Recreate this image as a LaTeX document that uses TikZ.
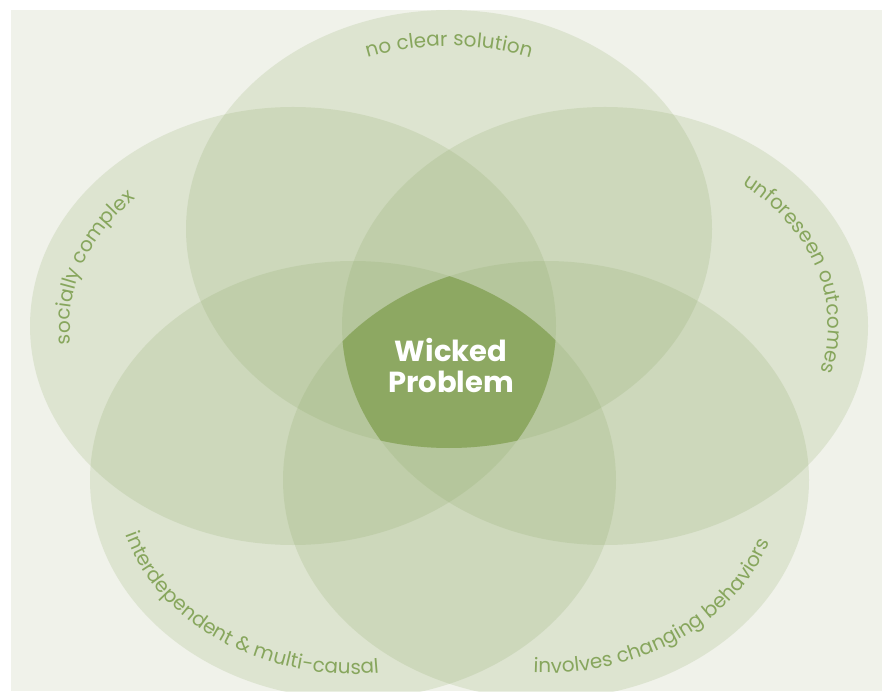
\documentclass[tikz,border=0pt]{standalone}
\usepackage{fontspec}
\setmainfont{Poppins}
\usepackage{tikz}
\usetikzlibrary{decorations.text}
\definecolor{paper}{RGB}{240,242,234}
\definecolor{leaf}{RGB}{136,165,95}
\definecolor{core}{RGB}{141,168,98}
\definecolor{labelgreen}{RGB}{135,166,93}
\newcommand{\labelfont}{\color{labelgreen}\fontsize{20}{20}\selectfont}

\begin{document}
\begin{tikzpicture}[x=1pt,y=1pt,
    petal/.style={fill=leaf,fill opacity=.18},
    rim/.style={decorate,decoration={text along path,text align=center,
      text={|\labelfont|#1}}}]
  \useasboundingbox (0,0) rectangle (882,691);
  \fill[paper] (11,0) rectangle (882,681);
  \coordinate (solution) at (449,462);
  \coordinate (social)   at (293,365);
  \coordinate (outcome)  at (605,365);
  \coordinate (causal)   at (353,211);
  \coordinate (behavior) at (546,211);
  \begin{scope}
    \clip (11,0) rectangle (882,681);
    \foreach \c in {solution,social,outcome,causal,behavior}
      \fill[petal] (\c) ellipse [x radius=263pt,y radius=219pt];
    \begin{scope}
      \foreach \c in {solution,social,outcome,causal,behavior}
        \clip (\c) ellipse [x radius=263pt,y radius=219pt];
      \fill[core] (11,0) rectangle (882,681);
    \end{scope}
  \end{scope}
  \node[text=white,font=\fontsize{29}{31}\selectfont\bfseries,align=center]
    (wicked) at (451,325) {Wicked\\Problem};
  \path[rim=no clear solution] (solution) ++(135:229pt and 183pt)
    arc[start angle=135,end angle=45,x radius=229pt,y radius=183pt];
  \path[rim=socially complex] (social) ++(205:223pt and 180pt)
    arc[start angle=205,end angle=118,x radius=223pt,y radius=180pt];
  \path[rim=unforeseen outcomes] (outcome) ++(62:223pt and 180pt)
    arc[start angle=62,end angle=-26,x radius=223pt,y radius=180pt];
  \path[rim=interdependent {\&} multi-causal] (causal) ++(180:237pt and 194pt)
    arc[start angle=180,end angle=290,x radius=237pt,y radius=194pt];
  \path[rim=involves changing behaviors] (behavior) ++(253:236pt and 193pt)
    arc[start angle=253,end angle=358,x radius=236pt,y radius=193pt];
\end{tikzpicture}
\end{document}
